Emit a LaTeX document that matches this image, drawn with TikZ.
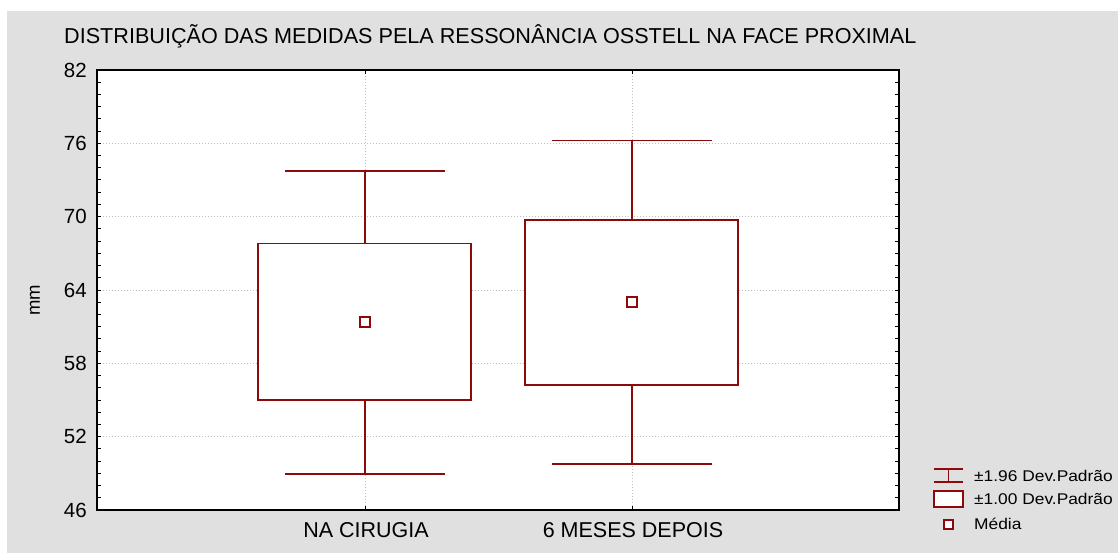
\documentclass[tikz,border=0pt]{standalone}
\usepackage{fontspec}
\setmainfont{Liberation Sans}
\newfontfamily\legfont{Liberation Sans}[FakeStretch=1.12]
\definecolor{bgc}{RGB}{224,224,224}
\definecolor{dred}{RGB}{140,10,10}
\definecolor{gridc}{RGB}{190,190,190}
\begin{document}
\begin{tikzpicture}[x=1pt,y=-1pt,
  declare function={Y(\v)=510-(\v-46)*12.2222;},
  boxst/.style={draw=dred, line width=1.15pt, fill=white},
  whisk/.style={draw=dred, line width=1.15pt},
  meanst/.style={draw=dred, line width=1.8pt, fill=white, minimum size=10pt, inner sep=0, shape=rectangle},
  gridl/.style={draw=gridc, line width=0.8pt, dash pattern=on 1pt off 2pt},
  framest/.style={draw=black, line width=1.4pt},
  tickst/.style={draw=black, line width=1pt},
  ticklab/.style={font=\fontsize{20.5}{24}\selectfont, anchor=east, inner sep=0},
  catlab/.style={font=\fontsize{21.5}{24}\selectfont, anchor=center, inner sep=0},
  leglab/.style={font=\legfont\fontsize{15.5}{18}\selectfont, anchor=west, inner sep=0},
  titlest/.style={font=\fontsize{21.6}{24}\selectfont, anchor=west, inner sep=0}]
\useasboundingbox (0,0) rectangle (1118,553);
% background
\fill[white] (0,0) rectangle (1118,553);
\fill[bgc] (7,11) rectangle (1118,553);
% title
\node[titlest] (title) at (64,36) {DISTRIBUIÇÃO DAS MEDIDAS PELA RESSONÂNCIA OSSTELL NA FACE PROXIMAL};
% plot area
\fill[white] (97,70) rectangle (899,510);
% grid
\foreach \v in {52,58,64,70,76} \draw[gridl] (97,{Y(\v)}) -- (899,{Y(\v)});
\foreach \x in {365,632} \draw[gridl] (\x,70) -- (\x,510);
% ticks
\foreach \v in {47,...,81} {
  \draw[tickst] (97,{Y(\v)}) -- ++(4,0);
  \draw[tickst] (899,{Y(\v)}) -- ++(-4,0);
}
\foreach \x in {365,632} {
  \draw[tickst] (\x,510) -- ++(0,-4);
  \draw[tickst] (\x,70) -- ++(0,4);
}
% y labels
\foreach \v in {46,52,...,82} \node[ticklab] at (87,{Y(\v)}) {\v};
\node[font=\fontsize{18.5}{20}\selectfont, rotate=90, inner sep=0] (ylab) at (35,300) {mm};
% category labels
\node[catlab] (c1) at (366,530) {NA CIRUGIA};
\node[catlab] (c2) at (633,530) {6 MESES DEPOIS};
% group 1
\coordinate (w1t) at (365,{Y(73.74)});
\coordinate (w1b) at (365,{Y(48.95)});
\draw[whisk] (w1t) -- (w1b);
\draw[whisk] (285,{Y(73.74)}) -- (445,{Y(73.74)});
\draw[whisk] (285,{Y(48.95)}) -- (445,{Y(48.95)});
\draw[boxst] (258,{Y(67.77)}) rectangle (471,{Y(55.0)});
\node[meanst] (m1) at (365,{Y(61.38)}) {};
% group 2
\coordinate (w2t) at (632,{Y(76.2)});
\coordinate (w2b) at (632,{Y(49.76)});
\draw[whisk] (w2t) -- (w2b);
\draw[whisk] (552,{Y(76.2)}) -- (712,{Y(76.2)});
\draw[whisk] (552,{Y(49.76)}) -- (712,{Y(49.76)});
\draw[boxst] (525,{Y(69.73)}) rectangle (738,{Y(56.23)});
\node[meanst] (m2) at (632,{Y(63.02)}) {};
% frame
\draw[framest] (97,70) rectangle (899,510);
% legend
\draw[whisk, line width=1.1pt] (934,469) -- (963,469) (934,482) -- (963,482) (948.5,469) -- (948.5,482);
\node[leglab] (l1) at (974,476) {±1.96 Dev.Padrão};
\draw[boxst, line width=1.1pt] (934,491) rectangle (963,507);
\node[leglab] (l2) at (974,499) {±1.00 Dev.Padrão};
\node[meanst, minimum size=9pt] (lm) at (948.5,524.5) {};
\node[leglab] (l3) at (974,524) {Média};
\end{tikzpicture}
\end{document}
